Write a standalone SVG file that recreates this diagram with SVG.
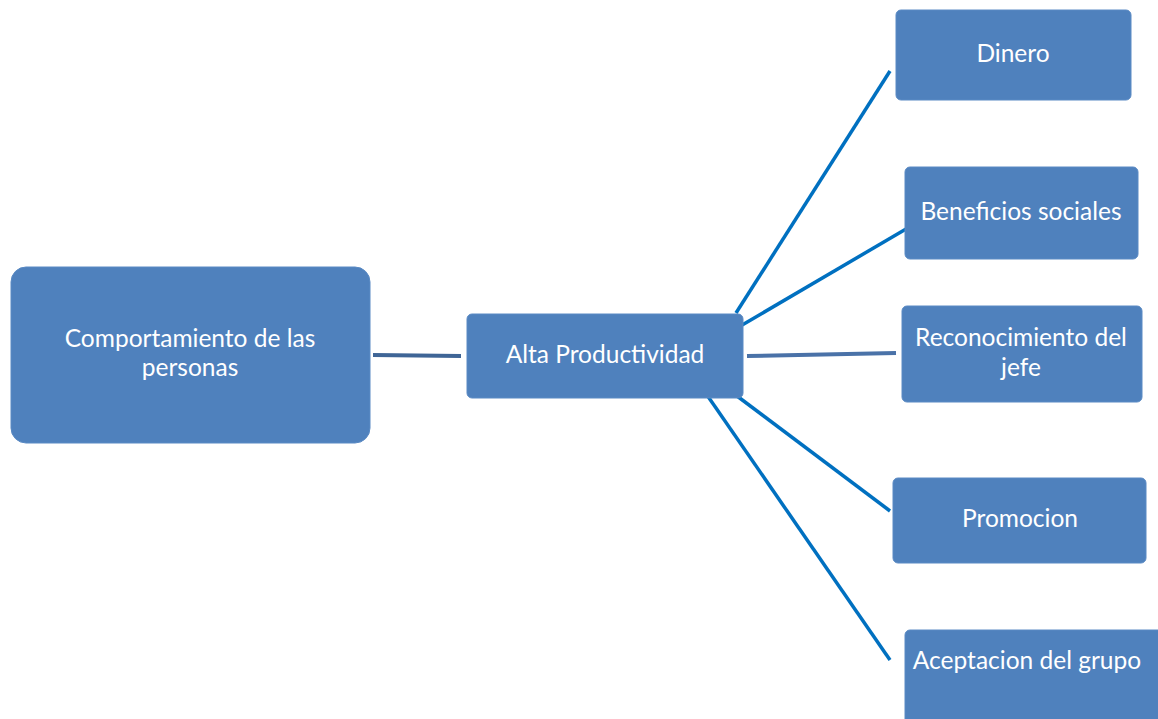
<svg xmlns="http://www.w3.org/2000/svg" width="1158" height="719" viewBox="0 0 1158 719">
<style>
.box{fill:#4F81BD;stroke:#5A8AC4;stroke-width:1}
.t{font-family:Lato,"Open Sans",sans-serif;font-size:24.5px;fill:#FFFFFF;text-anchor:middle}
.c{stroke:#0070C0;stroke-width:3.5;fill:none}
.g{stroke:#3F6596;stroke-width:4;fill:none}
</style>
<rect width="1158" height="719" fill="#FFFFFF"/>
<g id="connectors">
<line class="g" x1="373" y1="355" x2="461" y2="356"/>
<line class="g" x1="747" y1="356" x2="896" y2="353" style="stroke:#4A72A8"/>
<line class="c" x1="736" y1="313" x2="890" y2="71"/>
<line class="c" x1="737" y1="328" x2="906" y2="229"/>
<line class="c" x1="737" y1="396" x2="890" y2="511"/>
<line class="c" x1="707" y1="395" x2="890" y2="660"/>
</g>
<g id="n-comportamiento">
<rect class="box" x="11" y="267" width="359" height="176" rx="15"/>
<text class="t" x="190" y="347">Comportamiento de las</text>
<text class="t" x="190" y="376">personas</text>
</g>
<g id="n-alta">
<rect class="box" x="467" y="314" width="276" height="84" rx="5"/>
<text class="t" x="605" y="363">Alta Productividad</text>
</g>
<g id="n-dinero">
<rect class="box" x="896" y="10" width="235" height="90" rx="5"/>
<text class="t" x="1013" y="62">Dinero</text>
</g>
<g id="n-beneficios">
<rect class="box" x="905" y="167" width="233" height="92" rx="5"/>
<text class="t" x="1021" y="220">Beneficios sociales</text>
</g>
<g id="n-reconocimiento">
<rect class="box" x="902" y="306" width="240" height="96" rx="5"/>
<text class="t" x="1021" y="346">Reconocimiento del</text>
<text class="t" x="1021" y="376">jefe</text>
</g>
<g id="n-promocion">
<rect class="box" x="893" y="478" width="253" height="85" rx="5"/>
<text class="t" x="1020" y="527">Promocion</text>
</g>
<g id="n-aceptacion">
<rect class="box" x="905" y="630" width="260" height="100" rx="5"/>
<text class="t" x="1027" y="669">Aceptacion del grupo</text>
</g>
</svg>
